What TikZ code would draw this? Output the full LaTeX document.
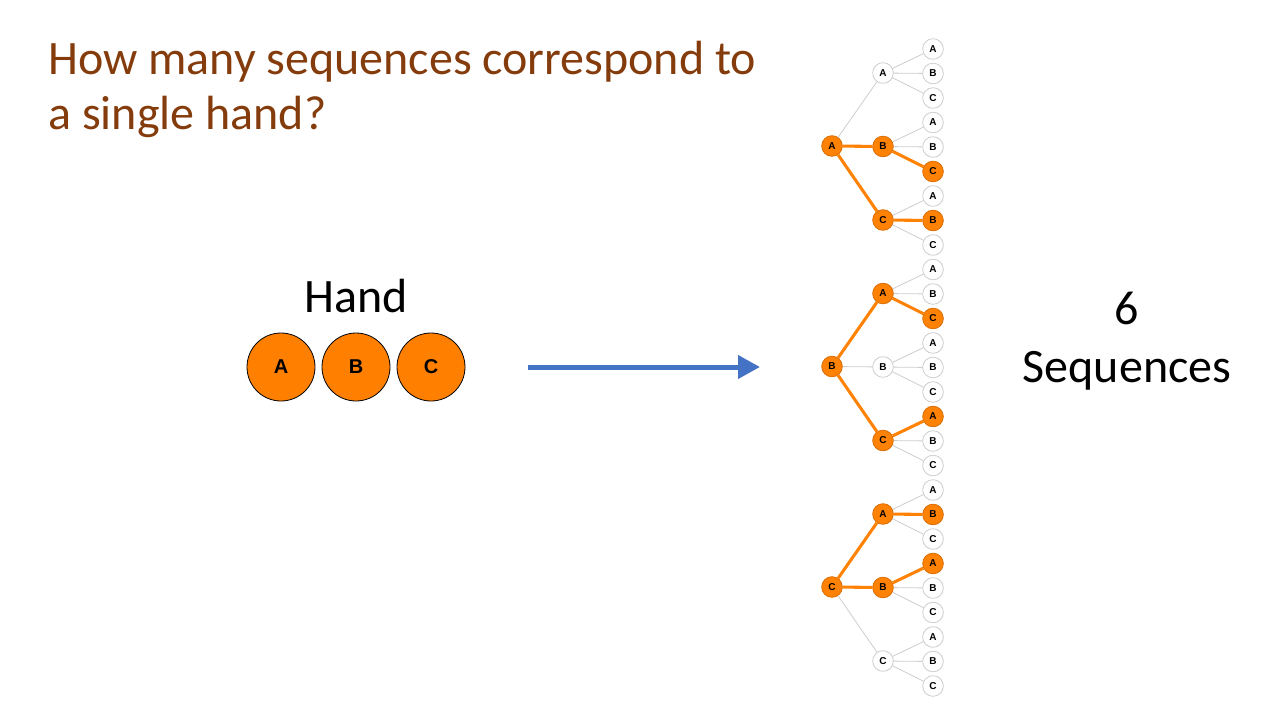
\documentclass[tikz,border=0pt]{standalone}
\usepackage{fontspec}
\setmainfont{Carlito}
\newfontfamily\labfont{Liberation Sans}
\usetikzlibrary{arrows.meta}
\definecolor{qbrown}{HTML}{843C0C}
\definecolor{cardor}{HTML}{FF8000}
\definecolor{treeor}{HTML}{FF8205}
\definecolor{treegr}{HTML}{CDCDCD}
\definecolor{arrblue}{HTML}{4472C4}
\tikzset{
  card/.style={circle,draw=black,line width=0.6pt,fill=cardor,minimum size=51pt,inner sep=0pt,
    font=\labfont\bfseries\fontsize{15}{15}\selectfont},
  plain/.style={circle,draw=treegr,line width=0.6pt,fill=white,minimum size=15.5pt,inner sep=0pt,
    font=\labfont\bfseries\fontsize{7.5}{8}\selectfont},
  pick/.style={plain,draw=treeor!85!black,fill=treeor},
  hl/.code={\ifnum#1=1\relax\tikzset{pick}\else\tikzset{plain}\fi},
  hledge/.code={\ifnum#1=1\relax\tikzset{draw=treeor,line width=2.3pt}\else\tikzset{draw=treegr,line width=0.6pt}\fi},
  big/.style={font=\fontsize{36}{43}\selectfont}
}
\begin{document}
\begin{tikzpicture}[x=0.75pt,y=-0.75pt]
\useasboundingbox (0,0) rectangle (1280,720);
% question
\node[big,text=qbrown,anchor=base west,inner sep=0pt] (q1) at (48,75) {How many sequences correspond to};
\node[big,text=qbrown,anchor=base west,inner sep=0pt] (q2) at (48,130) {a single hand?};
% hand
\node[big,anchor=base,inner sep=0pt] (hand) at (356,312) {Hand};
\node[card] (ha) at (281,367) {A};
\node[card] (hb) at (356,367) {B};
\node[card] (hc) at (431,367) {C};
\coordinate (a0) at (528,367);
\coordinate (a1) at (760,367);
\draw[arrblue,line width=3.75pt,-{Triangle[length=16.5pt,width=17pt]}] (a0) -- (a1);
% tree
\foreach \i/\a in {0/A,1/B,2/C} {
  \node[pick] (r\i) at (832,{146+220.5*\i}) {\a};
  \foreach \j/\b in {0/A,1/B,2/C} {
    \pgfmathtruncatemacro\h{\i!=\j}
    \node[hl=\h] (m\i\j) at (883,{73+73.5*(3*\i+\j)}) {\b};
    \draw[hledge=\h] (r\i) -- (m\i\j);
    \foreach \k/\c in {0/A,1/B,2/C} {
      \pgfmathtruncatemacro\g{and(\i!=\j,and(\k!=\i,\k!=\j))}
      \node[hl=\g] (l\i\j\k) at (933,{49+24.5*(9*\i+3*\j+\k)}) {\c};
      \draw[hledge=\g] (m\i\j) -- (l\i\j\k);
    }
  }
}
% count
\node[font=\fontsize{36}{43.5}\selectfont,align=center,inner sep=0pt] (cnt) at (1127,341) {6\\Sequences};
\end{tikzpicture}
\end{document}
